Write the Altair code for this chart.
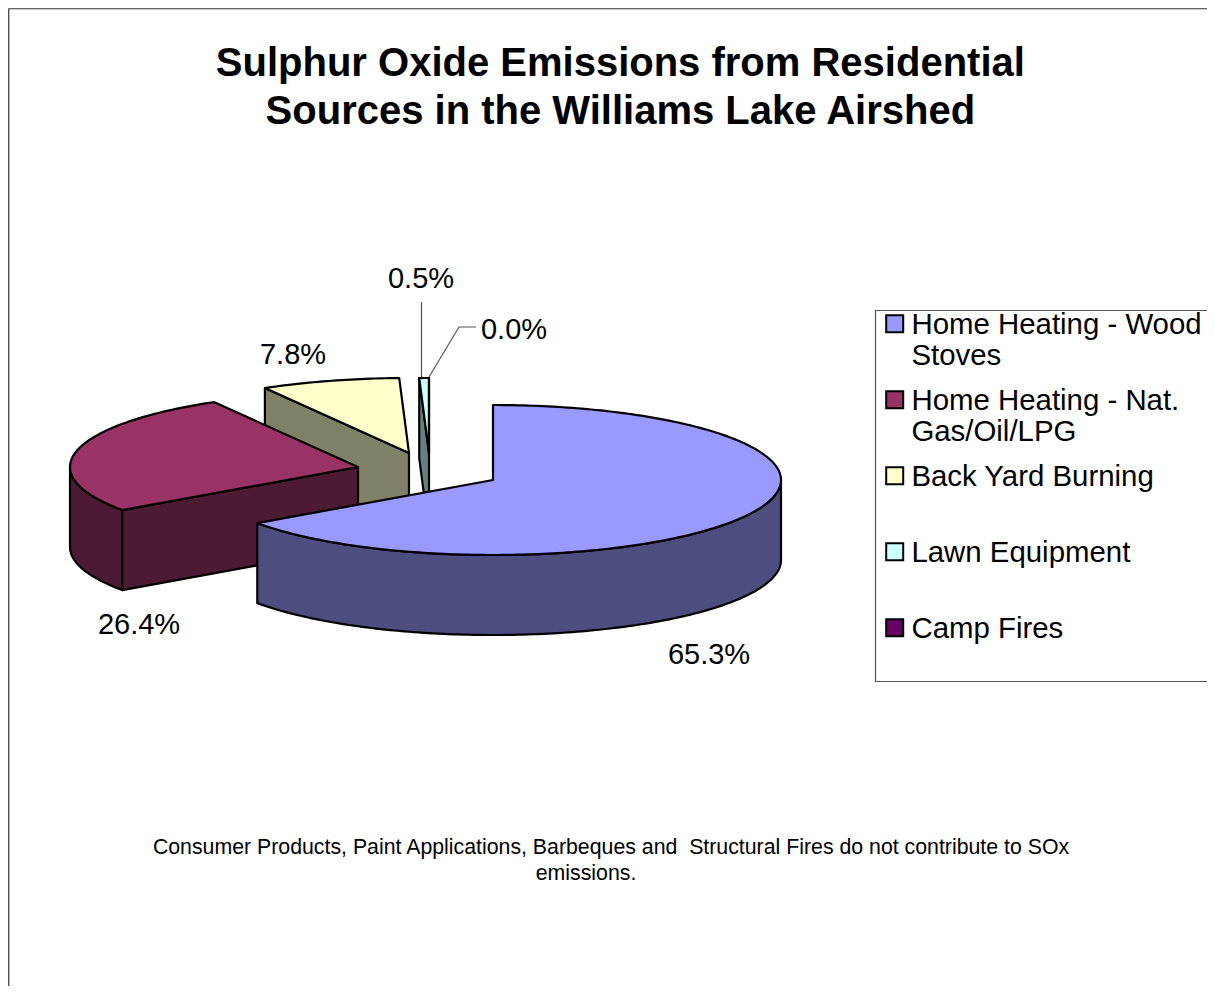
import numpy as np
import pandas as pd
import altair as alt

TITLE = ["Sulphur Oxide Emissions from Residential\u00a0", "Sources in the Williams Lake Airshed"]
SOURCES = ["Home Heating - Wood Stoves", "Home Heating - Nat. Gas/Oil/LPG", "Back Yard Burning", "Lawn Equipment", "Camp Fires"]
VALUES = [65.26, 26.4, 7.8, 0.54, 0.0]
TOP_COLORS = ["#9999FF", "#993366", "#FFFFCC", "#CCFFFF", "#660066"]
SIDE_COLORS = ["#4D4D80", "#4D1A33", "#808066", "#668080", "#330033"]
CENTERS = [(493, 480), (358, 467), (409, 453), (429, 453), (429, 453)]
LABEL_POS = [(709, 655), (139, 625), (293, 355), (421, 279), (514, 330)]
NOTE = [("Consumer Products, Paint Applications, Barbeques and \u00a0Structural Fires do not contribute to SOx", 611, 848),
        ("emissions.", 586, 874)]
RX, RY, DEPTH = 288, 75, 80
X0, Y0, X1, Y1 = 8, 8, 1207, 986

starts = np.cumsum([0] + VALUES[:-1]) * 3.6
ends = np.cumsum(VALUES) * 3.6


def pt(i, deg, drop=0):
    cx, cy = CENTERS[i]
    a = np.radians(deg)
    return (cx + RX * np.sin(a), cy - RY * np.cos(a) + drop)


def arc(i, a0, a1, drop=0):
    n = max(2, int(abs(a1 - a0)) + 2)
    return [pt(i, a, drop) for a in np.linspace(a0, a1, n)]


polys = []  # (part name, points), in painting order


def add(name, pts):
    polys.append((name, pts))


def shade(i):
    return SOURCES[i] + " (shade)"


# back slices first, front ones last
for i in (2, 3):
    p, c = pt(i, starts[i]), CENTERS[i]
    add(shade(i), [p, c, (c[0], c[1] + DEPTH), (p[0], p[1] + DEPTH)])
    add(SOURCES[i], [c] + arc(i, starts[i], ends[i]))
add(SOURCES[4], [CENTERS[4]] + arc(4, starts[4], 360))
# Nat. gas slice: rim, front cut face, top
add(shade(1) + " rim", arc(1, starts[1], 270) + arc(1, 270, starts[1], DEPTH))
p, c = pt(1, starts[1]), CENTERS[1]
add(shade(1), [p, c, (c[0], c[1] + DEPTH), (p[0], p[1] + DEPTH)])
add(SOURCES[1], [c] + arc(1, starts[1], ends[1]))
# Wood stove slice: rim, top
add(shade(0), arc(0, 90, ends[0]) + arc(0, ends[0], 90, DEPTH))
add(SOURCES[0], [CENTERS[0]] + arc(0, starts[0], ends[0]))

rows = []
for k, (name, pts) in enumerate(polys):
    for j, (x, y) in enumerate(pts):
        rows.append({"poly": k, "part": name, "j": j, "x": float(x), "y": float(y)})
df = pd.DataFrame(rows)

domain = list(SOURCES) + [shade(i) for i in range(5)] + [shade(1) + " rim"]
colors = list(TOP_COLORS) + list(SIDE_COLORS) + [SIDE_COLORS[1]]

xs = alt.Scale(domain=[X0, X1], zero=False, nice=False)
ys = alt.Scale(domain=[Y1, Y0], zero=False, nice=False)
X = alt.X("x:Q", scale=xs, axis=None)
Y = alt.Y("y:Q", scale=ys, axis=None)

label_expr = ("datum.label == 'Home Heating - Wood Stoves' ? ['Home Heating - Wood','Stoves'] : "
              "datum.label == 'Home Heating - Nat. Gas/Oil/LPG' ? ['Home Heating - Nat.','Gas/Oil/LPG'] : "
              "[datum.label,' ']")

pie = alt.Chart(df).mark_line(
    filled=True, stroke="black", strokeWidth=2.2, interpolate="linear-closed", strokeJoin="round"
).encode(
    x=X, y=Y, order="j:Q", detail="poly:N",
    fill=alt.Fill("part:N", scale=alt.Scale(domain=domain, range=colors),
                  legend=alt.Legend(values=SOURCES, title=None, orient="none", legendX=872, legendY=288,
                                    symbolType="M-1,0.53 L1,0.53 L1,2.53 L-1,2.53 Z", symbolSize=289,
                                    symbolStrokeColor="black", symbolStrokeWidth=2, symbolOpacity=1,
                                    labelFont="Liberation Sans", labelFontSize=29.4, labelColor="black",
                                    labelExpr=label_expr, labelLimit=400,
                                    labelBaseline="top", rowPadding=1, padding=0, labelOffset=2)),
)

# frame, legend box and leader lines
lines = [("frame", "#333333", [(8.75, Y1), (8.75, 8.75), (X1, 8.75)]),
         ("box", "#555555", [(X1, 310.5), (875.5, 310.5), (875.5, 681.5), (X1, 681.5)]),
         ("lead1", "#555555", [(421.5, 302), (421.5, 377)]),
         ("lead2", "#555555", [(429, 377), (459, 327), (476, 327)])]
lrows = []
for name, col, pts in lines:
    for j, (x, y) in enumerate(pts):
        lrows.append({"name": name, "col": col, "j": j, "x": x, "y": y})
line_layer = alt.Chart(pd.DataFrame(lrows)).mark_line(strokeWidth=1.2).encode(
    x=X, y=Y, order="j:Q", detail="name:N", stroke=alt.Stroke("col:N", scale=None))

lab_df = pd.DataFrame({
    "t": [f"{v:.1f}%" for v in VALUES],
    "x": [p[0] for p in LABEL_POS],
    "y": [p[1] for p in LABEL_POS],
})
labels = alt.Chart(lab_df).mark_text(font="Liberation Sans", fontSize=29, color="black").encode(x=X, y=Y, text="t:N")

note_df = pd.DataFrame(NOTE, columns=["t", "x", "y"])
notes = alt.Chart(note_df).mark_text(font="Liberation Sans", fontSize=21.3, color="black").encode(x=X, y=Y, text="t:N")

chart = alt.layer(line_layer, pie, labels, notes).properties(
    width=X1 - X0, height=Y1 - Y0, padding=0, autosize=alt.AutoSizeParams(type="none"),
    title=alt.TitleParams(TITLE, font="Liberation Sans", fontSize=40, fontWeight="bold", color="black",
                          lineHeight=48, anchor="start", dx=614, align="center", offset=-126),
).configure_view(stroke=None)

chart.save("out.html", embed_options={"renderer": "svg", "actions": False})
